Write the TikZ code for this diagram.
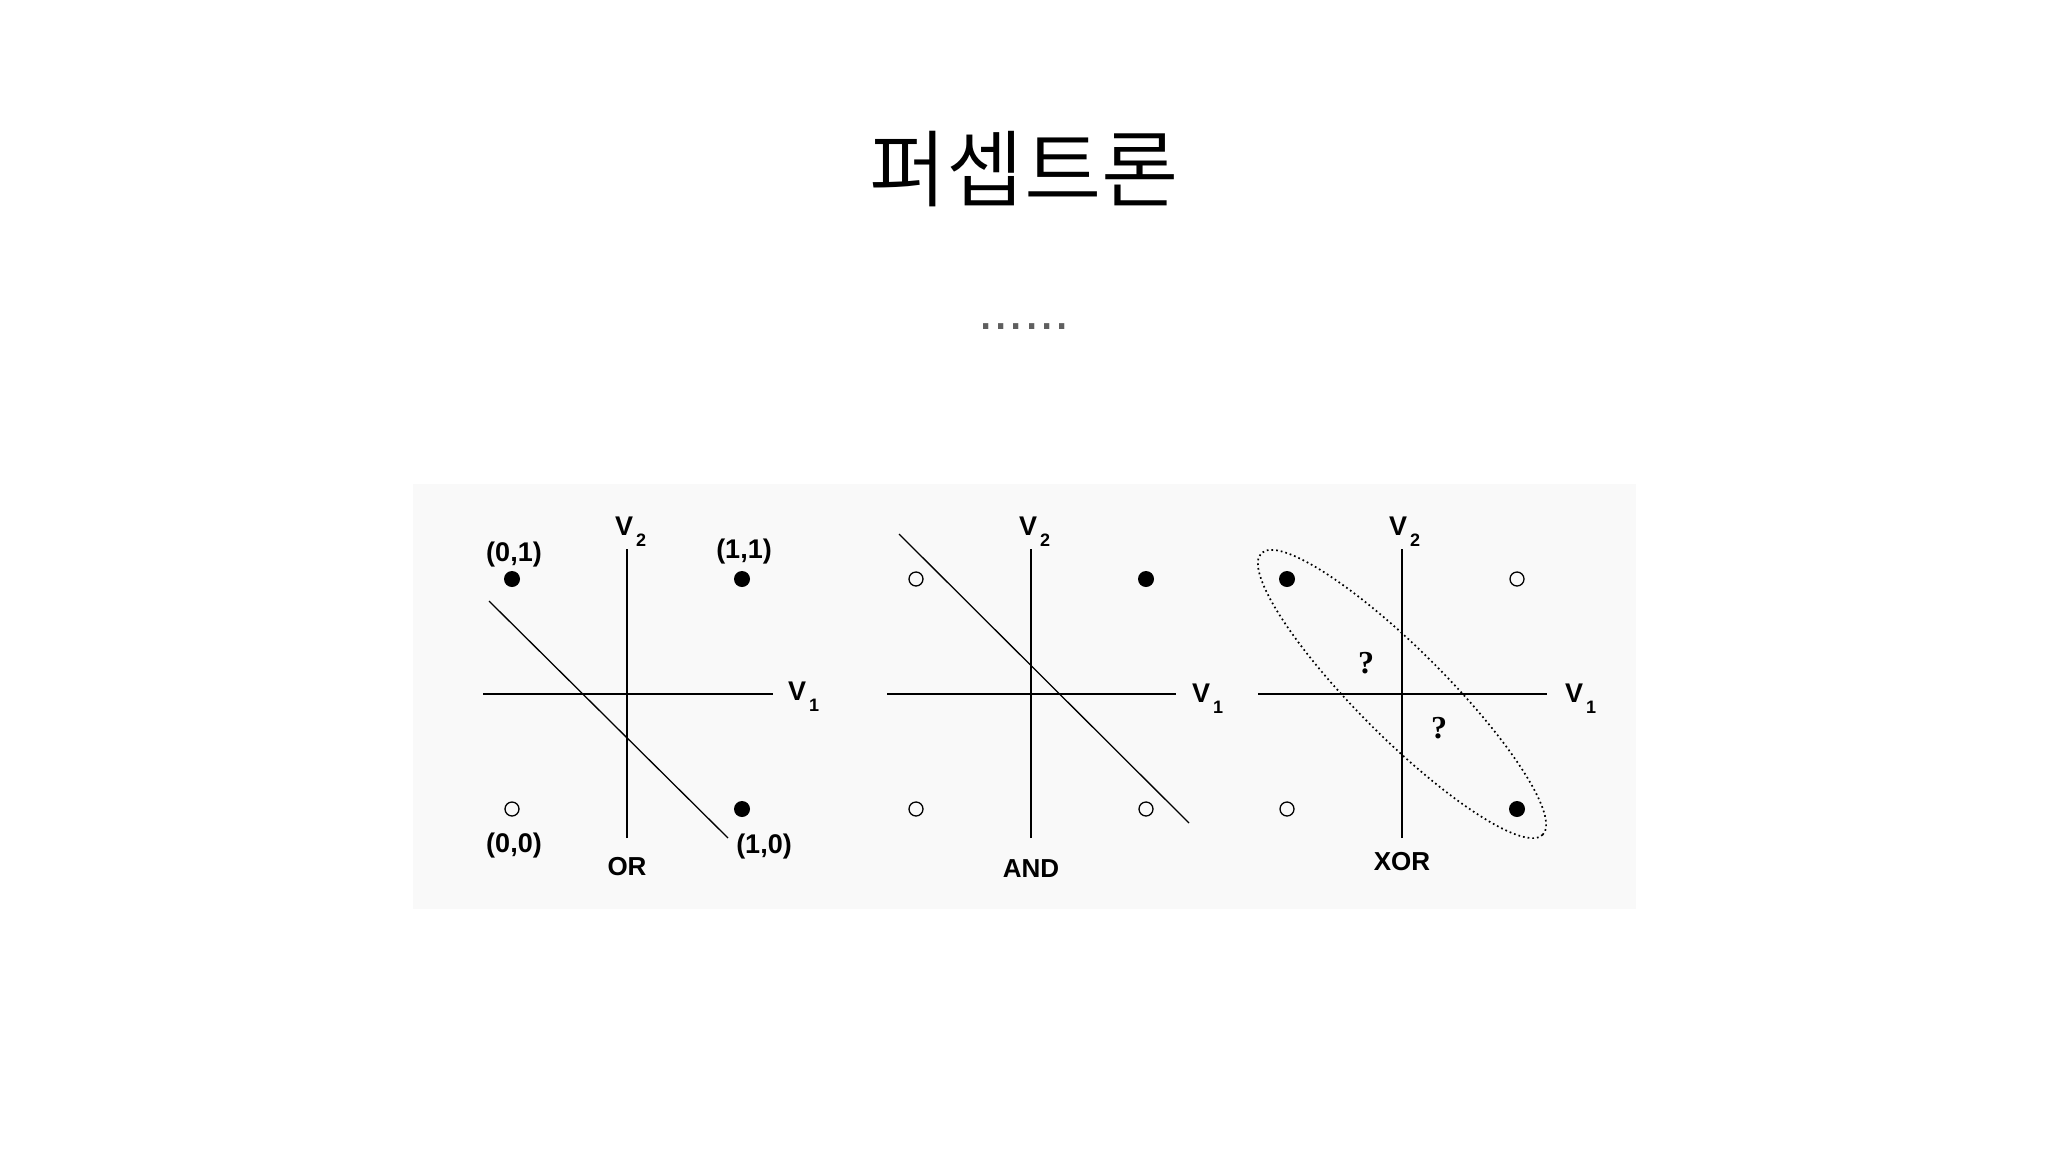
\documentclass[tikz,border=0pt]{standalone}
\usepackage{fontspec}
\setmainfont{Liberation Sans}
\newfontfamily\krfont{Noto Sans CJK KR DemiLight}
\newfontfamily\qfont{Liberation Serif}
\usetikzlibrary{positioning}

\definecolor{panelgray}{RGB}{249,249,249}
\definecolor{dotgray}{RGB}{95,95,95}
\newcommand{\lowsub}[1]{\hspace{3pt}\raisebox{-11pt}{\fontsize{18}{18}\selectfont\bfseries #1}}

\begin{document}
\begin{tikzpicture}[x=1pt,y=-1pt,on grid,
		one/.style={circle,fill=black,inner sep=0pt,minimum size=16pt},
		zero/.style={circle,draw=black,line width=1.3pt,inner sep=0pt,minimum size=14pt},
		axis/.style={line width=2.4pt},
		split/.style={line width=1.3pt},
		ring/.style={line width=1.7pt,dash pattern=on 1.7pt off 3pt},
		lbl/.style={font=\fontsize{27}{27}\selectfont\bfseries,inner sep=0pt},
		gate/.style={font=\fontsize{26}{26}\selectfont\bfseries,inner sep=0pt},
		ask/.style={font=\qfont\fontsize{32}{32}\selectfont\bfseries,inner sep=0pt}]

		\useasboundingbox (0,0) rectangle (2048,1152);
		\fill[white] (0,0) rectangle (2048,1152);
		\fill[panelgray] (413,484) rectangle (1636,909);

		\node[font=\krfont\fontsize{84}{84}\selectfont,inner sep=0pt,anchor=base] (title) at (1024,200) {퍼셉트론};
		\node[font=\fontsize{55}{55}\selectfont,text=dotgray,inner sep=0pt,below=129pt of title.base,anchor=base] (dots) {......};

		% OR
		\coordinate (c1) at (627,694);
		\coordinate[above=145pt of c1] (c1n);
		\coordinate[below=144pt of c1] (c1s);
		\coordinate[left=144pt of c1] (c1w);
		\coordinate[right=146pt of c1] (c1e);
		\draw[axis] (c1w) -- (c1e);
		\draw[axis] (c1s) -- (c1n);

		\node[zero,below left=115pt and 115pt of c1,anchor=center] 	(o00)	{};
		\node[one,above left=115pt and 115pt of c1,anchor=center] 	(o01)	{};
		\node[one,below right=115pt and 115pt of c1,anchor=center] 	(o10)	{};
		\node[one,above right=115pt and 115pt of c1,anchor=center] 	(o11)	{};

		\node[lbl,above right=18pt and 2pt of o01,anchor=base] 	(t01)	{(0,1)};
		\node[lbl,above right=21pt and 2pt of o11,anchor=base] 	(t11)	{(1,1)};
		\node[lbl,below right=43pt and 2pt of o00,anchor=base] 	(t00)	{(0,0)};
		\node[lbl,below right=44pt and 22pt of o10,anchor=base] (t10)	{(1,0)};

		\node[lbl,above left=14pt and 12pt of c1n,anchor=base west] 	(v2a)	{V\lowsub{2}};
		\node[lbl,below right=6pt and 15pt of c1e,anchor=base west] 	(v1a)	{V\lowsub{1}};
		\node[gate,below=37pt of c1s,anchor=base] 	(or)	{OR};

		\coordinate[above left=93pt and 138pt of c1] 	(s1a);
		\coordinate[below right=144pt and 101pt of c1] 	(s1b);
		\draw[split] (s1a) -- (s1b);

		% AND
		\coordinate (c2) at (1031,694);
		\coordinate[above=145pt of c2] (c2n);
		\coordinate[below=144pt of c2] (c2s);
		\coordinate[left=144pt of c2] (c2w);
		\coordinate[right=145pt of c2] (c2e);
		\draw[axis] (c2w) -- (c2e);
		\draw[axis] (c2s) -- (c2n);

		\node[zero,below left=115pt and 115pt of c2,anchor=center] 	(a00)	{};
		\node[zero,above left=115pt and 115pt of c2,anchor=center] 	(a01)	{};
		\node[zero,below right=115pt and 115pt of c2,anchor=center] 	(a10)	{};
		\node[one,above right=115pt and 115pt of c2,anchor=center] 	(a11)	{};

		\node[lbl,above left=14pt and 12pt of c2n,anchor=base west] 	(v2b)	{V\lowsub{2}};
		\node[lbl,below right=8pt and 16pt of c2e,anchor=base west] 	(v1b)	{V\lowsub{1}};
		\node[gate,below=39pt of c2s,anchor=base] 	(and)	{AND};

		\coordinate[above left=160pt and 132pt of c2] 	(s2a);
		\coordinate[below right=129pt and 158pt of c2] 	(s2b);
		\draw[split] (s2a) -- (s2b);

		% XOR
		\coordinate (c3) at (1402,694);
		\coordinate[above=145pt of c3] (c3n);
		\coordinate[below=144pt of c3] (c3s);
		\coordinate[left=144pt of c3] (c3w);
		\coordinate[right=145pt of c3] (c3e);
		\draw[axis] (c3w) -- (c3e);
		\draw[axis] (c3s) -- (c3n);

		\node[zero,below left=115pt and 115pt of c3,anchor=center] 	(x00)	{};
		\node[one,above left=115pt and 115pt of c3,anchor=center] 	(x01)	{};
		\node[one,below right=115pt and 115pt of c3,anchor=center] 	(x10)	{};
		\node[zero,above right=115pt and 115pt of c3,anchor=center] 	(x11)	{};

		\node[lbl,above left=14pt and 13pt of c3n,anchor=base west] 	(v2c)	{V\lowsub{2}};
		\node[lbl,below right=8pt and 18pt of c3e,anchor=base west] 	(v1c)	{V\lowsub{1}};
		\node[gate,below=32pt of c3s,anchor=base] 	(xor)	{XOR};

		\node[ask,above left=31pt and 36pt of c3,anchor=center] 	(q1)	{?};
		\node[ask,below right=34pt and 37pt of c3,anchor=center] 	(q2)	{?};

		\draw[ring,rotate around={-45:(c3)}] (c3) ellipse [x radius=199pt,y radius=44pt];
	\end{tikzpicture}
\end{document}
